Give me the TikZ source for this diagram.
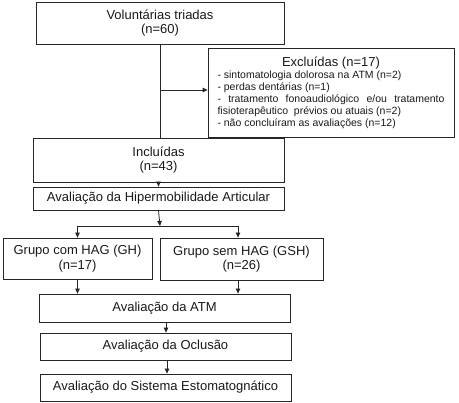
\documentclass[tikz,border=0pt]{standalone}
\usepackage{fontspec}
\setmainfont{Liberation Sans}
\usetikzlibrary{arrows.meta,calc}
\setlength{\parindent}{0pt}
\begin{document}
\begin{tikzpicture}[x=1pt,y=-1pt,
  box/.style={draw=black!85,line width=0.8pt,inner sep=0pt,align=center,
    font=\fontsize{13}{14.5}\selectfont,text=black!90},
  arr/.style={draw=black!85,line width=0.8pt,-{Triangle[length=5pt,width=4.5pt]}},
  ln/.style={draw=black!85,line width=0.8pt}]
\useasboundingbox (0,0) rectangle (459,403);
\node[box,minimum width=248pt,minimum height=42pt] (vol) at (160,23) {Voluntárias triadas\\(n=60)};
\node[box,text width=227pt,inner xsep=9.5pt,inner ysep=0pt,minimum height=89pt,align=justify] (exc) at (331,92.5)
 {{\centering Excluídas (n=17)\par}
  {\fontsize{10.5}{12}\selectfont - sintomatologia dolorosa na ATM (n=2)\par
  - perdas dentárias (n=1)\par
  - tratamento fonoaudiológico e/ou tratamento\linebreak
  fisioterapêutico \ prévios ou atuais (n=2)\par
  - não concluíram as avaliações (n=12)\par}};
\node[box,minimum width=251pt,minimum height=44pt] (inc) at (158.5,160) {Incluídas\\(n=43)};
\node[box,minimum width=251pt,minimum height=23pt] (ha) at (158.5,198.5) {Avaliação da Hipermobilidade Articular};
\node[box,minimum width=149pt,minimum height=41pt] (gh) at (77.5,258.5) {Grupo com HAG (GH)\\(n=17)};
\node[box,minimum width=163pt,minimum height=42pt] (gsh) at (241.5,259) {Grupo sem HAG (GSH)\\(n=26)};
\node[box,minimum width=251pt,minimum height=28pt] (atm) at (164.5,308) {Avaliação da ATM};
\node[box,minimum width=251pt,minimum height=27pt] (ocl) at (165.5,346.5) {Avaliação da Oclusão};
\node[box,minimum width=251pt,minimum height=27pt] (sis) at (165.5,387.5) {Avaliação do Sistema Estomatognático};
% connectors
\draw[ln] (vol.south) -- (vol.south |- inc.north);
\coordinate (e) at (160,90);
\draw[arr] (e) -- (e -| exc.west);
\draw[arr] (inc.south) -- (ha.north);
\coordinate (j) at (160,226);
\draw[arr] (ha.south) -- (j);
\draw[arr] (j) -| (gh.north);
\draw[arr] (j) -| ([xshift=-3.5pt]gsh.north);
\draw[arr] (gh.south) -- (gh.south |- atm.north);
\draw[arr] ([xshift=-3.5pt]gsh.south) -- ([xshift=-3.5pt]gsh.south |- atm.north);
\draw[arr] ([xshift=1.5pt]atm.south) -- ([xshift=1.5pt]atm.south |- ocl.north);
\draw[arr] ([xshift=1.5pt]ocl.south) -- ([xshift=1.5pt]ocl.south |- sis.north);
\end{tikzpicture}
\end{document}
